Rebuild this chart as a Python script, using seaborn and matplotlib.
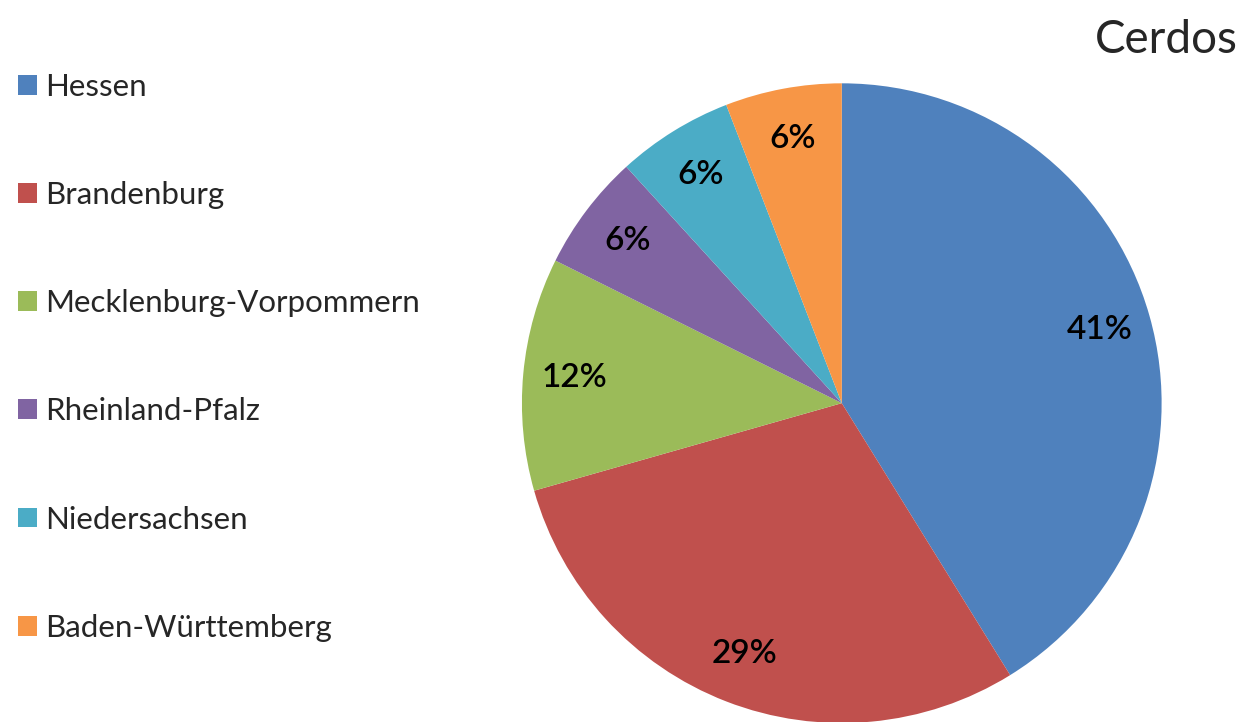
import matplotlib
matplotlib.use("Agg")
import matplotlib.pyplot as plt
import seaborn as sns

# datos
estados = ["Hessen", "Brandenburg", "Mecklenburg-Vorpommern",
           "Rheinland-Pfalz", "Niedersachsen", "Baden-Württemberg"]
cerdos = [7, 5, 2, 1, 1, 1]
colores = ["#4F81BD", "#C0504D", "#9BBB59", "#8064A2", "#4BACC6", "#F79646"]

sns.set_theme(style="white")
plt.rcParams["font.family"] = ["Lato", "DejaVu Sans"]

fig = plt.figure(figsize=(12.48, 7.22), dpi=100)
ax = fig.add_axes([0.418, -0.0014, 0.513, 0.886])

wedges, _, autotexts = ax.pie(
    cerdos,
    colors=sns.color_palette(colores),
    startangle=90,
    counterclock=False,
    autopct="%1.0f%%",
    pctdistance=0.84,
    wedgeprops={"linewidth": 0},
    textprops={"fontsize": 24, "color": "black", "fontweight": "semibold"},
)
ax.set_xlim(-1, 1)
ax.set_ylim(-1, 1)
ax.set_aspect("equal")

fig.legend(
    wedges, estados,
    loc="upper left",
    bbox_to_anchor=(0.0145, 0.899),
    frameon=False,
    fontsize=22.5,
    labelspacing=2.565,
    handlelength=0.6,
    handleheight=0.6,
    handletextpad=0.26,
    borderaxespad=0.0,
    borderpad=0.0,
)

fig.text(0.992, 0.945, "Cerdos", ha="right", va="center", fontsize=33)

plt.savefig("out.png", dpi=100)
